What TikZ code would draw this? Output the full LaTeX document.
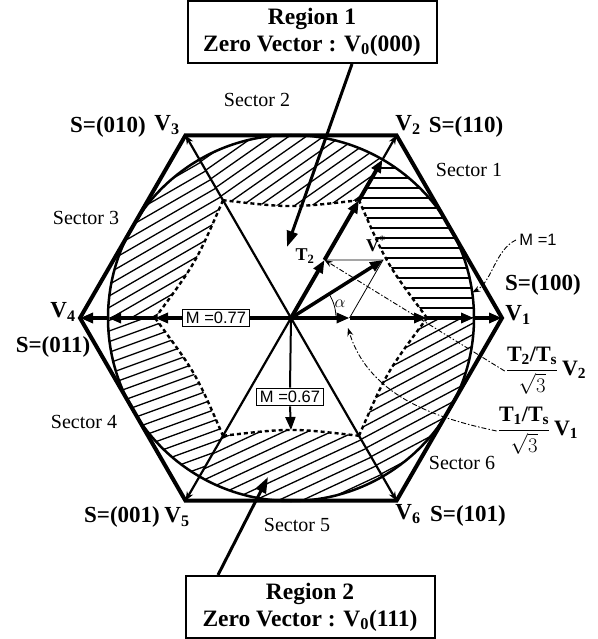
\documentclass[tikz,border=0pt]{standalone}
\usepackage{amsmath}
\usepackage{fontspec}
\setmainfont{Liberation Serif}
\setsansfont{Liberation Sans}
\usetikzlibrary{arrows.meta, positioning, calc}

\begin{document}
\begin{tikzpicture}[x=1pt, y=-1pt,
	sechseck/.style={line width=4pt, line join=miter},
	kreis/.style={line width=2.5pt},
	diag/.style={line width=2.2pt, -{Stealth[length=9pt, width=7pt]}},
	vek/.style={line width=4pt, -{Triangle[length=13pt, width=10pt]}},
	hilfs/.style={line width=0.8pt},
	strich/.style={line width=0.9pt, dash pattern=on 5pt off 2pt on 1.5pt off 2pt, -{Stealth[length=8pt, width=6pt]}},
	schraff/.style={line width=1.3pt},
	rand/.style={line width=2.4pt, dash pattern=on 4pt off 3pt},
	lab/.style={font=\fontsize{23}{25}\selectfont\bfseries, inner sep=1pt},
	klein/.style={font=\fontsize{18}{20}\selectfont\bfseries, inner sep=1pt},
	sektor/.style={font=\fontsize{20}{22}\selectfont, inner sep=1pt},
	mbox/.style={draw, line width=1pt, fill=white, font=\sffamily\fontsize{16.5}{18}\selectfont, inner sep=3pt},
	region/.style={draw, line width=2pt, align=center, minimum width=249pt, minimum height=62pt,
	               font=\fontsize{23.5}{27}\selectfont\bfseries, inner sep=2pt},
	arr/.style={line width=3pt, -{Triangle[length=16pt, width=11pt]}}
	]
\useasboundingbox (0,0) rectangle (597,639);

\coordinate (C) at (291,318);
\foreach \k in {1,...,6}
	\path (C) ++(-60*\k+60:211) coordinate (V\k);
\foreach \k in {0,...,5}
	\path (C) ++(-60*\k:136) coordinate (d\k)
	      (C) ++(-60*\k-30:110) coordinate (q\k)
	      (C) ++(-60*\k:183) coordinate (c\k);
\path (C) ++(90:112) coordinate (mb);
\path (C) ++(-8:183) coordinate (cm);
\coordinate (T1) at (349.5,318);
\coordinate (T2) at (324.5,260);
\coordinate (Vs) at (383,260);
\coordinate (T1u) at (348,328);

% schraffierte Bereiche
\foreach \k/\wk in {0/0, 1/35, 2/30, 3/20, 4/25, 5/28} {
	\pgfmathtruncatemacro{\nk}{mod(\k+1,6)}
	\begin{scope}
		\clip (d\k) .. controls (q\k) .. (d\nk) -- (c\nk)
			arc[start angle=-60*\k-60, end angle=-60*\k, radius=183] -- cycle;
		\begin{scope}[shift={(C)}, rotate=\wk]
			\foreach \i in {-200,-190,...,200}
				\draw[schraff] (-220,\i) -- (220,\i);
		\end{scope}
	\end{scope}
	\draw[rand] (d\k) .. controls (q\k) .. (d\nk);
}

\draw[kreis] (C) circle[radius=183];
\draw[sechseck] (V1) -- (V2) -- (V3) -- (V4) -- (V5) -- (V6) -- cycle;

\draw[diag] (C) -- (V3);
\draw[diag] (C) -- (V5);
\draw[diag] (C) -- (V6);

\node[mbox] (m77) at (216,318) {M =0.77};
\node[mbox] (m67) at (290,397) {M =0.67};

% Achse V1
\draw[vek] (C) -- (T1);
\draw[vek] (T1) -- (d0);
\draw[vek] (d0) -- (c0);
\draw[vek] (c0) -- (V1);
% Achse V4
\draw[line width=4pt] (C) -- (m77.east);
\draw[vek] (m77.west) -- (d3);
\draw[vek] (d3) -- (c3);
\draw[vek] (c3) -- (V4);
% Achse V2
\draw[vek] (C) -- (T2);
\draw[vek] (T2) -- (d1);
\draw[vek] (d1) -- (c1);
\draw[diag] (c1) -- (V2);
% M = 0.67
\draw[line width=2pt] (C) -- (m67.north);
\draw[vek, line width=2pt] (m67.south) -- (mb);

% Referenzvektor
\draw[vek, line width=3.5pt] (C) -- (Vs);
\draw[hilfs] (T2) -- (Vs) -- (T1);
\draw[hilfs] ($(C)+(45,0)$) arc[start angle=0, end angle=-32, radius=45];

\node[klein] (t2lab) at (305,256) {T\textsubscript{2}};
\node[klein] (vslab) at (376,244) {V\textsuperscript{*}};
\node[klein, font=\fontsize{18}{20}\selectfont] (alab) at (340,304) {$\alpha$};

% Regionen
\node[region] (reg1) at (312,32) {Region 1\\Zero Vector : V\textsubscript{0}(000)};
\node[region] (reg2) at (310,607) {Region 2\\Zero Vector : V\textsubscript{0}(111)};
\coordinate (r1) at (287,247);
\coordinate (r2) at (268,477);
\draw[arr] ([xshift=40pt]reg1.south) -- (r1);
\draw[arr] ([xshift=-92pt]reg2.north) -- (r2);

% Schaltzustaende
\node[lab] (s010) at (108,127) {S=(010)};
\node[lab] (v3lab) at (167,125) {V\textsubscript{3}};
\node[lab] (v2lab) at (408,125) {V\textsubscript{2}};
\node[lab] (s110) at (466,127) {S=(110)};
\node[lab] (s100) at (543,285) {S=(100)};
\node[lab] (v1lab) at (518,315) {V\textsubscript{1}};
\node[lab] (v4lab) at (63,312) {V\textsubscript{4}};
\node[lab] (s011) at (53,347) {S=(011)};
\node[lab] (s001) at (122,517) {S=(001)};
\node[lab] (v5lab) at (177,517) {V\textsubscript{5}};
\node[lab] (v6lab) at (408,514) {V\textsubscript{6}};
\node[lab] (s101) at (468,516) {S=(101)};

\node[sektor] (sec1) at (469,170) {Sector 1};
\node[sektor] (sec2) at (257,100) {Sector 2};
\node[sektor] (sec3) at (86,218) {Sector 3};
\node[sektor] (sec4) at (84,422) {Sector 4};
\node[sektor] (sec5) at (297,525) {Sector 5};
\node[sektor] (sec6) at (462,463) {Sector 6};

% Anteile
\node[klein, font=\fontsize{22}{24}\selectfont\bfseries] (f2) at (546,371)
	{$\dfrac{\text{T\textsubscript{2}/T\textsubscript{s}}}{\sqrt{3}}$\,V\textsubscript{2}};
\node[klein, font=\fontsize{22}{24}\selectfont\bfseries] (f1) at (538,431)
	{$\dfrac{\text{T\textsubscript{1}/T\textsubscript{s}}}{\sqrt{3}}$\,V\textsubscript{1}};
\node[mbox, draw=none, fill=none] (m1) at (538,240) {M =1};

\draw[strich] (f2.west) -- (T2);
\draw[strich] (f1.west) .. controls (445,420) and (370,400) .. (T1u);
\draw[strich] (m1.west) .. controls (495,250) and (492,282) .. (cm);
\end{tikzpicture}
\end{document}
